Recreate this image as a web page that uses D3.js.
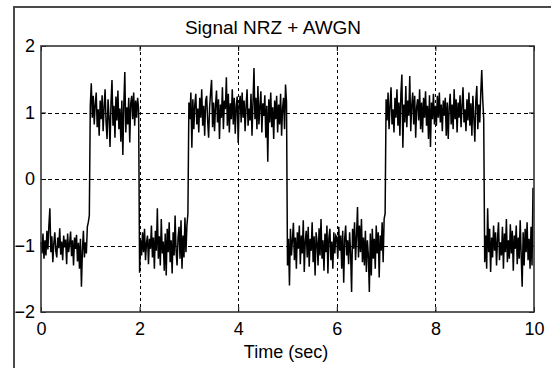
<!DOCTYPE html>
<html>
<head>
<meta charset="utf-8">
<script src="https://cdn.jsdelivr.net/npm/d3@7"></script>
<style>
  body { margin: 0; background: #fff; }
  svg { display: block; }
</style>
</head>
<body>
<svg id="chart" width="551" height="368"></svg>
<script>
// bit levels for each 1 s symbol
var bits = [-1, 1, -1, 1, 1, -1, -1, 1, 1, -1];
var samplesPerBit = 50;
// noise, in hundredths, 50 samples per bit
var noise = [
  5,-12,18,-20,8,-15,22,-6,30,56,-10,14,-25,3,20,-8,-18,12,-4,26,-14,6,-22,15,-3,9,-28,18,-10,2,21,-16,8,-30,12,-5,16,-24,4,-35,10,-62,-8,22,-18,5,-12,28,35,45,
  10,44,-8,25,-18,12,30,-22,5,-35,18,-10,26,-28,8,35,-15,-40,20,-6,-52,15,49,-20,10,-38,24,-12,33,-25,6,-44,18,-64,12,61,-30,8,-18,22,-45,14,25,-10,30,-20,18,-8,22,5,
  -41,8,-15,20,-10,25,-22,4,15,-28,10,-5,30,-18,12,-35,22,-8,56,-20,14,-30,40,-12,6,-38,18,-45,25,-10,35,-25,8,-42,20,-15,45,-8,-30,12,28,-20,38,-35,15,-18,42,-10,30,48,
  15,-10,30,-53,20,-25,12,28,-18,6,-30,22,-8,35,-20,10,-35,18,25,-12,-38,8,30,49,-22,15,-28,10,33,-15,20,-40,12,-8,38,-25,18,5,53,-20,28,-30,14,-10,35,-18,22,-32,10,24,
  -46,12,25,-15,30,-8,18,-28,10,35,-20,6,-12,28,-35,15,67,-10,22,-25,40,-18,8,32,-30,14,-5,26,-38,10,-74,20,-15,30,-22,8,-40,18,-10,25,-30,12,-18,28,-35,6,22,-25,42,15,
  -30,10,-60,25,-15,8,34,-22,12,-35,20,-5,30,-28,15,-12,38,-40,6,22,-18,28,-32,10,-8,35,-25,14,-45,20,5,-30,26,-15,40,-20,8,-38,18,-10,30,-42,12,25,-22,6,-35,20,-12,15,
  12,-20,28,-8,15,-35,22,-56,10,30,-15,8,-28,20,-12,-70,25,-5,35,-22,14,58,-18,30,-10,40,-25,12,-30,22,-40,8,-15,-70,18,-45,25,-20,10,-35,30,-12,20,-48,15,-8,35,-25,40,48,
  20,-12,30,-25,10,38,-18,5,-30,22,-8,35,-20,15,-35,28,57,-53,12,-15,40,-22,18,-5,55,-28,10,30,-18,25,-38,8,20,-12,35,-25,15,-30,22,-8,32,-20,10,-40,26,-52,15,-10,28,-18,
  10,-20,25,-8,30,-15,12,-28,18,-5,22,-35,15,-40,8,28,-18,12,-25,35,-10,20,-30,15,-8,26,-22,10,38,-15,5,-28,20,-12,30,-20,14,-35,25,-8,-44,18,40,-25,12,-15,28,64,20,-10,
  -25,15,-35,56,-10,25,-40,12,-18,30,-8,20,-30,10,35,-22,5,-15,28,-35,18,-10,40,-25,8,-20,32,-12,22,-38,15,-5,30,-28,12,-20,38,-15,-62,20,-30,25,-10,35,-22,10,-35,28,-30,87
];
var xTicks = [0, 2, 4, 6, 8, 10];
var yTicks = [-2, -1, 0, 1, 2];
var gridX = [2, 4, 6, 8];
var gridY = [-1, 0, 1];
var title = "Signal NRZ + AWGN";
var xLabel = "Time (sec)";

var signal = noise.map(function (n, i) {
  return { t: i / samplesPerBit, v: bits[Math.floor(i / samplesPerBit)] + n / 100 };
});

var svg = d3.select("#chart");
var fontFam = "'Liberation Sans', Arial, sans-serif";
var plotL = 41, plotR = 534, plotT = 46, plotB = 312;

var x = d3.scaleLinear().domain([0, 10]).range([plotL, plotR]);
var y = d3.scaleLinear().domain([-2, 2]).range([plotB, plotT]);

svg.append("rect").attr("width", 551).attr("height", 368).attr("fill", "#fff");

// window frame (left and top edges only visible)
svg.append("path")
  .attr("d", "M14,368V7H551")
  .attr("fill", "none")
  .attr("stroke", "#4a4a4a")
  .attr("stroke-width", 2);

// grid
svg.append("g").selectAll("line")
  .data(gridX)
  .enter().append("line")
  .attr("x1", function (d) { return Math.round(x(d)) + 0.5; })
  .attr("x2", function (d) { return Math.round(x(d)) + 0.5; })
  .attr("y1", plotT).attr("y2", plotB)
  .attr("stroke", "#000")
  .attr("stroke-dasharray", "3,3");

svg.append("g").selectAll("line")
  .data(gridY)
  .enter().append("line")
  .attr("y1", function (d) { return Math.round(y(d)) + 0.5; })
  .attr("y2", function (d) { return Math.round(y(d)) + 0.5; })
  .attr("x1", plotL).attr("x2", plotR)
  .attr("stroke", "#000")
  .attr("stroke-dasharray", "4,3");

// signal
var line = d3.line()
  .x(function (d) { return x(d.t); })
  .y(function (d) { return y(d.v); });

svg.append("path")
  .datum(signal)
  .attr("d", line)
  .attr("fill", "none")
  .attr("stroke", "#000")
  .attr("stroke-width", 1.5);

// axes, ticks pointing inward
var fmt = d3.format("d");
svg.append("g")
  .attr("transform", "translate(0," + plotB + ")")
  .call(d3.axisBottom(x).tickValues(xTicks).tickFormat(fmt).tickSizeInner(-5).tickSizeOuter(0).tickPadding(10));
svg.append("g")
  .attr("transform", "translate(" + plotL + ",0)")
  .call(d3.axisLeft(y).tickValues(yTicks).tickFormat(fmt).tickSizeInner(-5).tickSizeOuter(0).tickPadding(6));
svg.append("g")
  .attr("transform", "translate(0," + plotT + ")")
  .call(d3.axisTop(x).tickValues(xTicks).tickSizeInner(-5).tickSizeOuter(0).tickFormat(""));
svg.append("g")
  .attr("transform", "translate(" + plotR + ",0)")
  .call(d3.axisRight(y).tickValues(yTicks).tickSizeInner(-5).tickSizeOuter(0).tickFormat(""));

svg.selectAll(".domain").remove();
svg.selectAll(".tick line").attr("stroke", "#000");
svg.selectAll(".tick text")
  .attr("font-family", fontFam)
  .attr("font-size", 18)
  .attr("fill", "#000");

// plot box
svg.append("rect")
  .attr("x", plotL).attr("y", plotT)
  .attr("width", plotR - plotL).attr("height", plotB - plotT)
  .attr("fill", "none")
  .attr("stroke", "#333")
  .attr("stroke-width", 1.6);

svg.append("text")
  .attr("x", 273).attr("y", 34)
  .attr("text-anchor", "middle")
  .attr("font-family", fontFam)
  .attr("font-size", 19)
  .text(title);

svg.append("text")
  .attr("x", 286).attr("y", 358)
  .attr("text-anchor", "middle")
  .attr("font-family", fontFam)
  .attr("font-size", 18)
  .text(xLabel);
</script>
</body>
</html>
